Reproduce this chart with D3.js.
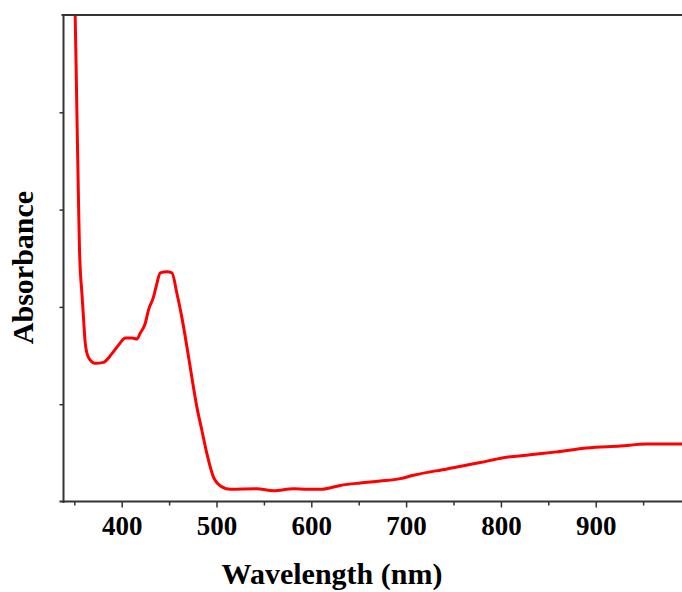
<!DOCTYPE html>
<html>
<head>
<meta charset="utf-8">
<script src="https://cdn.jsdelivr.net/npm/d3@7"></script>
<style>
  html, body { margin: 0; padding: 0; background: #fff; }
  svg { display: block; }
</style>
</head>
<body>
<svg id="chart" width="682" height="592"></svg>
<script>
// Data
const wavelength = [349.8, 350.9, 352.5, 354.4, 355.5, 358.0, 359.7, 361.5, 365.0, 372.0, 380.8, 389.7, 398.4, 403.7, 410.8, 416.0, 419.5, 424.8, 428.3, 433.5, 437.1, 440.6, 447.7, 453.0, 458.2, 463.5, 468.8, 474.1, 479.3, 484.6, 489.9, 496.8, 505.7, 514.5, 542.6, 560.1, 581.2, 595.4, 609.4, 630.5, 651.6, 672.7, 693.8, 707.8, 743.0, 778.2, 802.7, 830.9, 859.0, 890.7, 925.8, 953.9, 989.0, 1000];
const absorbance = [5.3, 5.0, 4.13, 3.10, 2.58, 2.14, 1.89, 1.63, 1.48, 1.42, 1.43, 1.52, 1.63, 1.68, 1.68, 1.67, 1.73, 1.83, 1.97, 2.10, 2.24, 2.35, 2.36, 2.35, 2.14, 1.89, 1.59, 1.27, 0.97, 0.73, 0.49, 0.25, 0.15, 0.125, 0.13, 0.11, 0.13, 0.125, 0.125, 0.165, 0.19, 0.21, 0.235, 0.27, 0.335, 0.40, 0.45, 0.48, 0.51, 0.55, 0.57, 0.59, 0.59, 0.59];
const xTickValues = [400, 500, 600, 700, 800, 900];
const xMinorValues = [350, 450, 550, 650, 750, 850, 950];
const yTickValues = [1, 2, 3, 4];
const xLabel = "Wavelength (nm)";
const yLabel = "Absorbance";

const data = wavelength.map((w, i) => ({ w, a: absorbance[i] }));

const svg = d3.select("#chart");
const mLeft = 63.5, mTop = 15, mBottom = 501.5;
const x = d3.scaleLinear().domain([338.6, 1000]).range([mLeft, mLeft + (1000 - 338.6) * 0.948]);
const y = d3.scaleLinear().domain([0, 5]).range([mBottom, mTop]);

const axisColor = "#333";
const font = "'Liberation Serif', 'Times New Roman', serif";

svg.append("defs").append("clipPath").attr("id", "clip")
  .append("rect").attr("x", mLeft).attr("y", mTop).attr("width", 700).attr("height", mBottom - mTop);

// curve
const line = d3.line().x(d => x(d.w)).y(d => y(d.a)).curve(d3.curveMonotoneX);
svg.append("path").datum(data)
  .attr("clip-path", "url(#clip)")
  .attr("fill", "none").attr("stroke", "#ff0000").attr("stroke-width", 3)
  .attr("stroke-linejoin", "round")
  .attr("d", line);

// bottom axis
const xAxis = svg.append("g").attr("transform", `translate(0,${mBottom})`)
  .call(d3.axisBottom(x).tickValues(xTickValues).tickSize(6).tickPadding(8).tickFormat(d3.format("d")));
xAxis.select(".domain").remove();
xAxis.selectAll(".tick line").attr("stroke", axisColor).attr("stroke-width", 1.5);
xAxis.selectAll(".tick text").attr("font-family", font).attr("font-weight", "bold")
  .attr("font-size", 27).attr("fill", "#000");
const xMinor = svg.append("g").attr("transform", `translate(0,${mBottom})`)
  .call(d3.axisBottom(x).tickValues(xMinorValues).tickSize(4).tickFormat(""));
xMinor.select(".domain").remove();
xMinor.selectAll(".tick line").attr("stroke", axisColor).attr("stroke-width", 1.5);

svg.append("line").attr("x1", mLeft - 4).attr("x2", 682).attr("y1", mBottom).attr("y2", mBottom)
  .attr("stroke", axisColor).attr("stroke-width", 2);

// left axis
const yAxis = svg.append("g").attr("transform", `translate(${mLeft},0)`)
  .call(d3.axisLeft(y).tickValues(yTickValues).tickSize(4).tickFormat(""));
yAxis.select(".domain").remove();
yAxis.selectAll(".tick line").attr("stroke", axisColor).attr("stroke-width", 1.5);
svg.append("line").attr("x1", mLeft).attr("x2", mLeft).attr("y1", mTop).attr("y2", mBottom + 1.5)
  .attr("stroke", axisColor).attr("stroke-width", 2);

// top border
svg.append("line").attr("x1", mLeft - 2).attr("x2", 682).attr("y1", mTop).attr("y2", mTop)
  .attr("stroke", axisColor).attr("stroke-width", 2);

// labels
svg.append("text").attr("x", 332).attr("y", 584)
  .attr("text-anchor", "middle").attr("font-family", font).attr("font-weight", "bold")
  .attr("font-size", 30).attr("fill", "#000").text(xLabel);
svg.append("text").attr("transform", "translate(33,267.5) rotate(-90)")
  .attr("text-anchor", "middle").attr("font-family", font).attr("font-weight", "bold")
  .attr("font-size", 30).attr("fill", "#000").text(yLabel);
</script>
</body>
</html>
